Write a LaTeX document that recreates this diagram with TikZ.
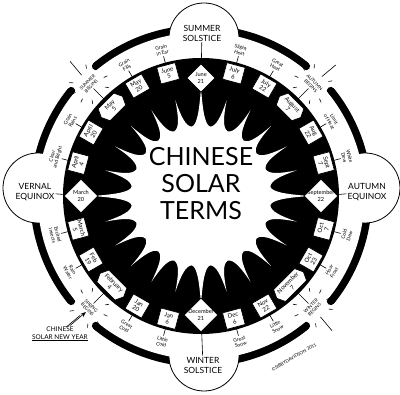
\documentclass[tikz,border=0pt]{standalone}
\usepackage{fontspec}
\setmainfont{Lato}
\usetikzlibrary{arrows.meta, shapes.geometric, shapes.symbols, calc}

\begin{document}
\begin{tikzpicture}[
        x=1pt, y=1pt,
        >=Stealth,
        every node/.style={align=center, inner sep=1pt, font=\fontsize{5}{5.6}\selectfont},
        datebox/.style={draw, fill=white, line width=0.7pt, minimum width=19pt, minimum height=17pt, font=\fontsize{6}{6.5}\selectfont},
        begdate/.style={datebox, signal, signal to=east and west, signal pointer angle=130, minimum width=30pt},
        sqbox/.style={draw, fill=white, line width=0.7pt, rotate=45, minimum size=24pt, inner sep=0pt},
        sqtxt/.style={font=\fontsize{5.6}{6.3}\selectfont, inner sep=0pt},
        termlbl/.style={inner sep=1.5pt},
        begterm/.style={inner sep=1.5pt, font=\fontsize{4.6}{5.2}\selectfont},
        bubble/.style={draw, fill=white, line width=0.8pt, circle, minimum size=70pt},
        bubtxt/.style={font=\fontsize{8.5}{10}\selectfont},
        tickln/.style={line width=0.6pt},
    ]
    \useasboundingbox (-201,-199) rectangle (199,196);

    % ── Outer black ring, broken where the seasons begin ──
    \draw[line width=8pt, line cap=round] (51:167) arc[start angle=51, end angle=129, radius=167];
    \draw[line width=8pt, line cap=round] (141:167) arc[start angle=141, end angle=219, radius=167];
    \draw[line width=8pt, line cap=round] (231:167) arc[start angle=231, end angle=309, radius=167];
    \draw[line width=8pt, line cap=round] (321:167) arc[start angle=321, end angle=399, radius=167];

    % ── Solstice / equinox bubbles ──
    \node[bubble] (sumbub) at (3,158) {};
    \node[bubble] (winbub) at (3,-160) {};
    \node[bubble] (verbub) at (-163,8) {};
    \node[bubble] (autbub) at (164,8) {};

    % ── White band and black sunburst ──
    \fill[white, even odd rule] (0,0) circle[radius=163.5] (0,0) circle[radius=138];
    \fill[black] (0,0) circle[radius=138];
    \fill[white] (90:108)
        \foreach \i [evaluate=\i as \a using 90-15*\i,
                     evaluate=\i as \rn using {ifthenelse(mod(\i,6)==0,108,99)},
                     evaluate=\i as \rm using {ifthenelse(mod(\i+1,6)==0,108,99)}] in {0,...,23} {
            .. controls (\a-0.8:\rn-16) and (\a-2.5:71) .. (\a-7.5:70)
            .. controls (\a-12.5:71) and (\a-14.2:\rm-16) .. (\a-15:\rm)
        } -- cycle;

    \node[font=\fontsize{25}{27}\selectfont] (title) at (0,12) {CHINESE\\SOLAR\\TERMS};

    % ── Solstices and equinoxes ──
    \node[sqbox, minimum size=20pt] (jun21sq) at (90:118) {};
    \node[sqtxt] (jun21) at (jun21sq) {June\\21};
    \node[sqbox] (sep22sq) at (0:120) {};
    \node[sqtxt] (sep22) at (sep22sq) {September\\22};
    \node[sqbox] (dec21sq) at (-90:119) {};
    \node[sqtxt] (dec21) at (dec21sq) {December\\21};
    \node[sqbox] (mar20sq) at (180:120) {};
    \node[sqtxt] (mar20) at (mar20sq) {March\\20};

    \node[bubtxt] (sumtxt) at (1,163) {SUMMER\\SOLSTICE};
    \node[bubtxt] (wintxt) at (2,-169) {WINTER\\SOLSTICE};
    \node[bubtxt] (vertxt) at (-166,4) {VERNAL\\EQUINOX};
    \node[bubtxt] (auttxt) at (166,4) {AUTUMN\\EQUINOX};

    % ── Summer to autumn ──
    \node[datebox, rotate=-15] (jul6) at (75:127) {July\\6};
    \node[termlbl, rotate=-15] (slightheat) at (75:151) {Slight\\Heat};
    \node[datebox, rotate=-30] (jul22) at (60:127) {July\\22};
    \node[termlbl, rotate=-30] (greatheat) at (60:151) {Great\\Heat};
    \node[begdate, rotate=-45] (aug7) at (45:126) {August\\7};
    \node[begterm, rotate=-45] (autbeg) at (45:158) {AUTUMN\\BEGINS};
    \node[datebox, rotate=-60] (aug22) at (30:127) {Aug\\22};
    \node[termlbl, rotate=-60] (limitheat) at (30:151) {Limit\\of Heat};
    \node[datebox, rotate=-75] (sep7) at (15:127) {Sept\\7};
    \node[termlbl, rotate=-75] (whitedew) at (15:151) {White\\Dew};

    % ── Autumn to winter ──
    \node[datebox, rotate=75] (oct7) at (-15:127) {Oct\\7};
    \node[termlbl, rotate=75] (colddew) at (-15:151) {Cold\\Dew};
    \node[datebox, rotate=60] (oct23) at (-30:127) {Oct\\23};
    \node[termlbl, rotate=60] (hoarfrost) at (-30:151) {Hoar\\Frost};
    \node[begdate, rotate=45] (nov7) at (-45:126) {November\\7};
    \node[begterm, rotate=45] (winbeg) at (-45:158) {WINTER\\BEGINS};
    \node[datebox, rotate=30] (nov22) at (-60:127) {Nov\\22};
    \node[termlbl, rotate=30] (littlesnow) at (-60:151) {Little\\Snow};
    \node[datebox, rotate=15] (dec6) at (-75:127) {Dec\\6};
    \node[termlbl, rotate=15] (greatsnow) at (-75:151) {Great\\Snow};

    % ── Winter to spring ──
    \node[datebox, rotate=-15] (jan6) at (-105:127) {Jan\\6};
    \node[termlbl, rotate=-15] (littlecold) at (-105:151) {Little\\Cold};
    \node[datebox, rotate=-30] (jan20) at (-120:127) {Jan\\20};
    \node[termlbl, rotate=-30] (greatcold) at (-120:151) {Great\\Cold};
    \node[begdate, rotate=-45] (feb4) at (-135:126) {February\\4};
    \node[begterm, rotate=-45] (sprbeg) at (-135:158) {SPRING\\BEGINS};
    \node[datebox, rotate=-60] (feb19) at (-150:127) {Feb\\19};
    \node[termlbl, rotate=-60] (rainwater) at (-150:151) {Rain\\Water};
    \node[datebox, rotate=-75] (mar5) at (-165:127) {March\\5};
    \node[termlbl, rotate=-75] (insects) at (-165:151) {Excited\\Insects};

    % ── Spring to summer ──
    \node[datebox, rotate=75] (apr4) at (165:127) {April\\4};
    \node[termlbl, rotate=75] (clearbright) at (165:151) {Clear\\and Bright};
    \node[datebox, rotate=60] (apr20) at (150:127) {April\\20};
    \node[termlbl, rotate=60] (grainrains) at (150:151) {Grain\\Rains};
    \node[begdate, rotate=45] (may5) at (135:126) {May\\5};
    \node[begterm, rotate=45] (sumbeg) at (135:158) {SUMMER\\BEGINS};
    \node[datebox, rotate=30] (may20) at (120:127) {May\\20};
    \node[termlbl, rotate=30] (grainfills) at (120:151) {Grain\\Fills};
    \node[datebox, rotate=15] (jun5) at (105:127) {June\\5};
    \node[termlbl, rotate=15] (graininear) at (105:151) {Grain\\in Ear};

    % ── Ticks: dates → terms ──
    \draw[tickln] (jun21sq) -- (sumtxt);
    \draw[tickln] (sep22sq) -- (auttxt);
    \draw[tickln] (dec21sq) -- (wintxt);
    \draw[tickln] (mar20sq) -- (vertxt);
    \draw[tickln] (jul6) -- (slightheat);
    \draw[tickln] (jul22) -- (greatheat);
    \draw[tickln] (aug7) -- (autbeg);
    \draw[tickln] (aug22) -- (limitheat);
    \draw[tickln] (sep7) -- (whitedew);
    \draw[tickln] (oct7) -- (colddew);
    \draw[tickln] (oct23) -- (hoarfrost);
    \draw[tickln] (nov7) -- (winbeg);
    \draw[tickln] (nov22) -- (littlesnow);
    \draw[tickln] (dec6) -- (greatsnow);
    \draw[tickln] (jan6) -- (littlecold);
    \draw[tickln] (jan20) -- (greatcold);
    \draw[tickln] (feb4) -- (sprbeg);
    \draw[tickln] (feb19) -- (rainwater);
    \draw[tickln] (mar5) -- (insects);
    \draw[tickln] (apr4) -- (clearbright);
    \draw[tickln] (apr20) -- (grainrains);
    \draw[tickln] (may5) -- (sumbeg);
    \draw[tickln] (may20) -- (grainfills);
    \draw[tickln] (jun5) -- (graininear);

    % ── Bursts round the season starts ──
    \foreach \phi in {135,45,-45,-135} {
        \begin{scope}[shift={(\phi:158)}, rotate=\phi-90]
            \foreach \b in {20,55,130,165,200,235,305,340}
                \draw[tickln] (\b:16) -- (\b:20);
            \draw[tickln] (85:12) -- (85:30);
        \end{scope}
    }

    % ── New year note and signature ──
    \node[font=\fontsize{6.5}{7.5}\selectfont] (newyear) at (-141,-138) {CHINESE\\\underline{SOLAR NEW YEAR}};
    \coordinate (nyend) at (-115,-116);
    \draw[->, line width=0.6pt] (newyear) -- (nyend);
    \node[font=\fontsize{4.5}{5}\selectfont, rotate=30] (sig) at (-60:186) {\copyright SIBBYDAVIDSON 2011};

\end{tikzpicture}
\end{document}
